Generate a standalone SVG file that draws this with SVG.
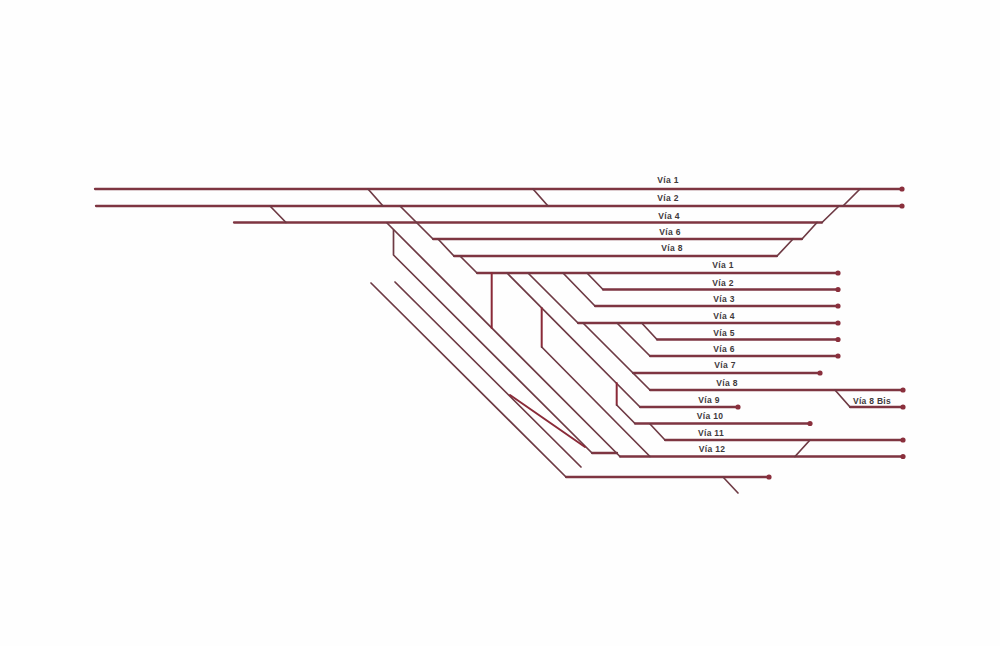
<svg xmlns="http://www.w3.org/2000/svg" width="1000" height="646" viewBox="0 0 1000 646">
<defs>
<marker id="end" markerUnits="userSpaceOnUse" markerWidth="8" markerHeight="8" refX="4" refY="4"><circle cx="4" cy="4" r="2.6" fill="#8a2f3c"/></marker>
</defs>
<style>
.t{fill:none;stroke:#7c2f3b;stroke-width:2;stroke-linecap:round;stroke-linejoin:round}
.h{stroke-width:2.300;stroke:#7e3541}
.d{stroke:#6e3a44;stroke-width:1.700}
.v{stroke:#8a2a38;stroke-width:2}
.e{marker-end:url(#end)}
text{font-family:"Liberation Sans",Arial,sans-serif;font-size:8.500px;font-weight:bold;fill:#3f3a3c;letter-spacing:.3px;text-anchor:middle}
</style>
<rect width="1000" height="646" fill="#fefefe"/>
<g id="tracks">
<path class="t h e" d="M95 189H902"/>
<path class="t h e" d="M96 206H902"/>
<path class="t h" d="M234 222.500H822"/>
<path class="t h" d="M433 239H802"/>
<path class="t h" d="M454 256H777"/>
<path class="t h e" d="M477 273H838"/>
<path class="t h e" d="M603 289.500H838"/>
<path class="t h e" d="M595 306H838"/>
<path class="t h e" d="M578 323H838"/>
<path class="t h e" d="M657 339.500H838"/>
<path class="t h e" d="M650 356H838"/>
<path class="t h e" d="M633 373H820"/>
<path class="t h e" d="M650 390H903"/>
<path class="t h e" d="M850 407H903"/>
<path class="t h e" d="M640 407H738"/>
<path class="t h e" d="M635 423.500H810"/>
<path class="t h e" d="M665 440H903"/>
<path class="t h e" d="M620 456.500H903"/>
<path class="t h e" d="M566 477H769"/>
<path class="t h" d="M592 453H617"/>
</g>
<g id="connectors">
<path class="t d" d="M270 206L286 222.500"/>
<path class="t d" d="M368 189L383 206"/>
<path class="t d" d="M533 189L548 206"/>
<path class="t d" d="M400 206L433 239"/>
<path class="t d" d="M438 239L454 256"/>
<path class="t d" d="M460 256L477 273"/>
<path class="t d" d="M860 189L843 206"/>
<path class="t d" d="M839 206L822 222.500"/>
<path class="t d" d="M817 222.500L802 239"/>
<path class="t d" d="M793 239L777 256"/>
<path class="t d" d="M387 223L620 456.500"/>
<path class="t d" d="M393.500 230V255L592 453"/>
<path class="t d" d="M395 282L581 467"/>
<path class="t d" d="M371 283L566 477"/>
<path class="t v" d="M510 395L585 447"/>
<path class="t v" d="M491.700 273V328"/>
<path class="t d" d="M507 273L640 407"/>
<path class="t v" d="M541.700 308V347"/>
<path class="t d" d="M541.700 347L650 456.500"/>
<path class="t d" d="M528 273L578 323"/>
<path class="t d" d="M563 273L595 306"/>
<path class="t d" d="M587 273L603 289.500"/>
<path class="t d" d="M583 323L650 390"/>
<path class="t d" d="M617 323L650 356"/>
<path class="t d" d="M641.700 323L657 339.500"/>
<path class="t v" d="M616.700 383V405"/>
<path class="t d" d="M616.700 405L635 423.500"/>
<path class="t d" d="M650 424L665 440"/>
<path class="t d" d="M795 456.500L810 440"/>
<path class="t d" d="M835 390L850 407"/>
<path class="t d" d="M723 477L738 493"/>
</g>
<g id="labels">
<text x="668" y="183">Vía 1</text>
<text x="668" y="201">Vía 2</text>
<text x="669" y="219">Vía 4</text>
<text x="670" y="235">Vía 6</text>
<text x="672" y="251">Vía 8</text>
<text x="723" y="268">Vía 1</text>
<text x="723" y="286">Vía 2</text>
<text x="724" y="302">Vía 3</text>
<text x="724" y="319">Vía 4</text>
<text x="724" y="336">Vía 5</text>
<text x="724" y="352">Vía 6</text>
<text x="725" y="368">Vía 7</text>
<text x="727" y="386">Vía 8</text>
<text x="709" y="403">Vía 9</text>
<text x="710" y="419">Vía 10</text>
<text x="711" y="436">Vía 11</text>
<text x="712" y="452">Vía 12</text>
<text x="872" y="404">Vía 8 Bis</text>
</g>
</svg>
